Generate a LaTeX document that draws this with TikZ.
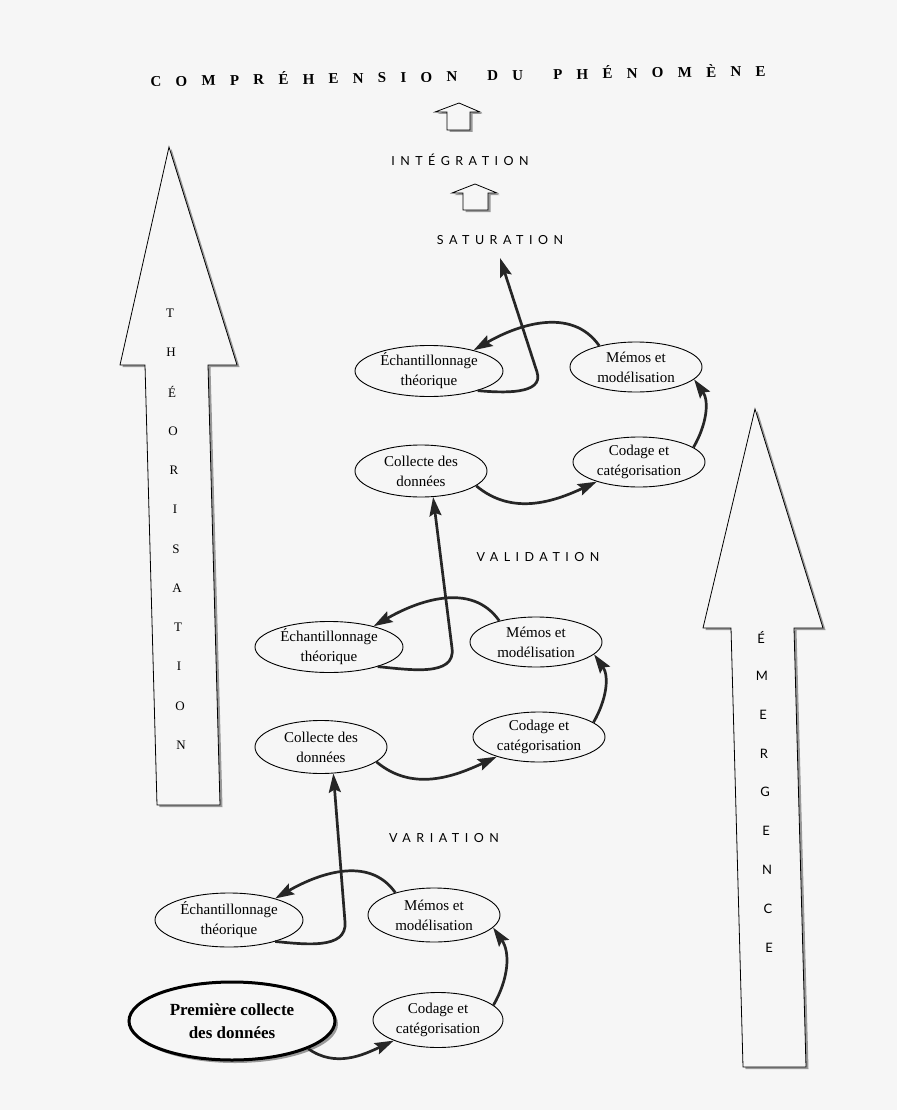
\documentclass[tikz,border=0pt]{standalone}
\usepackage{fontspec}
\setmainfont{Liberation Serif}
\newfontfamily\titlefont[LetterSpace=95]{Liberation Serif}
\newfontfamily\stagefont[LetterSpace=44]{Lato}
\newfontfamily\letterfont{Lato}
\usepackage{tikz}
\usetikzlibrary{shapes.geometric, arrows.meta, shadows}
\definecolor{paper}{gray}{0.965}

\tikzset{
  bubble/.style={ellipse, draw, line width=0.9pt, inner sep=0pt, align=center,
    minimum width=132pt, minimum height=50pt, font=\fontsize{15}{20}\selectfont},
  widebubble/.style={bubble, minimum width=148pt},
  firstbubble/.style={bubble, minimum width=206pt, minimum height=78pt, line width=3pt,
    fill=paper, font=\bfseries\fontsize{17}{23}\selectfont,
    drop shadow={shadow xshift=3pt, shadow yshift=-3pt, fill=black!40, opacity=1}},
  stage/.style={font=\stagefont\fontsize{12.5}{14}\selectfont},
  letter/.style={font=\letterfont\fontsize{13}{13}\selectfont},
  serifletter/.style={font=\fontsize{13}{13}\selectfont},
  link/.style={->, line width=2.7pt, black!85},
  hollow/.style={draw, line width=0.8pt, fill=paper,
    drop shadow={shadow xshift=2.5pt, shadow yshift=-2pt, fill=black!40, opacity=1}},
}

\begin{document}
\begin{tikzpicture}[x=1pt, y=-1pt, >={Stealth[length=19pt, width=12pt, inset=3pt]}]

  \fill[paper] (0,0) rectangle (897,1110);
  \useasboundingbox (0,0) rectangle (897,1110);

  % titles
  \node[font=\titlefont\bfseries\fontsize{15}{18}\selectfont, rotate=1] (title) at (458,75)
    {COMPRÉHENSION\hspace{12pt} DU\hspace{12pt} PHÉNOMÈNE};
  \node[stage] (integ) at (460,160) {INTÉGRATION};
  \node[stage] (satur) at (500,240) {SATURATION};
  \node[stage] (valid) at (538,557) {VALIDATION};
  \node[stage] (varia) at (444,838) {VARIATION};

  % small hollow arrows
  \draw[hollow] (435,112) -- (459,103) -- (480,112) -- (470,112) -- (470,130) -- (447,130) -- (447,112) -- cycle;
  \draw[hollow] (452,193) -- (475,184) -- (497,193) -- (488,193) -- (488,210) -- (463,210) -- (463,193) -- cycle;

  % big arrows
  \draw[hollow] (169,147) -- (237,365) -- (208,365) -- (220,805) -- (157,805) -- (145,365) -- (120,365) -- cycle;
  \draw[hollow] (755,409) -- (823,628) -- (794,628) -- (806,1067) -- (743,1067) -- (731,628) -- (703,628) -- cycle;
  \foreach \l [count=\i] in {T,H,É,O,R,I,S,A,T,I,O,N}
    \node[serifletter] (th\i) at ({169+\i},{313+(\i-1)*39.3}) {\l};
  \foreach \l [count=\i] in {É,M,E,R,G,E,N,C,E}
    \node[letter] (em\i) at ({760+\i},{637+(\i-1)*38.8}) {\l};

  % top cycle
  \node[widebubble] (tEch) at (429,371) {Échantillonnage\\théorique};
  \node[bubble] (tMem) at (636,367) {Mémos et\\modélisation};
  \node[bubble, minimum height=52pt] (tCol) at (421,471) {Collecte des\\données};
  \node[bubble] (tCod) at (639,462) {Codage et\\catégorisation};

  % middle cycle
  \node[widebubble] (mEch) at (329,647) {Échantillonnage\\théorique};
  \node[bubble] (mMem) at (536,642) {Mémos et\\modélisation};
  \node[bubble, minimum height=53pt] (mCol) at (321,747) {Collecte des\\données};
  \node[bubble] (mCod) at (539,737) {Codage et\\catégorisation};

  % bottom cycle
  \node[widebubble, minimum height=54pt] (bEch) at (229,920) {Échantillonnage\\théorique};
  \node[bubble, minimum height=54pt] (bMem) at (434,915) {Mémos et\\modélisation};
  \node[firstbubble] (first) at (232,1021) {Première collecte\\des données};
  \node[bubble, minimum width=130pt, minimum height=55pt] (bCod) at (438,1020) {Codage et\\catégorisation};

  \coordinate (tBend) at (537,372);
  \coordinate (tTop) at (500,258);
  \coordinate (mBend) at (452,648);
  \coordinate (bBend) at (345,922);

  \draw[link] (tCol.-15) to[out=-40, in=205] (tCod.205);
  \draw[link] (tCod.15) to[out=60, in=-55] (tMem.-12);
  \draw[link] (tMem.150) to[out=125, in=30] (tEch.25);
  \draw[link] (tEch.-22) to[out=-5, in=-72] (tBend) -- (tTop);

  \draw[link] (mCol.-15) to[out=-40, in=205] (mCod.205);
  \draw[link] (mCod.15) to[out=60, in=-55] (mMem.-12);
  \draw[link] (mMem.150) to[out=125, in=30] (mEch.25);
  \draw[link] (mEch.-22) to[out=-5, in=-82] (mBend) -- (tCol.-65);

  \draw[link] (first.-20) to[out=-35, in=205] (bCod.205);
  \draw[link] (bCod.15) to[out=60, in=-55] (bMem.-12);
  \draw[link] (bMem.150) to[out=125, in=30] (bEch.25);
  \draw[link] (bEch.-25) to[out=-5, in=-85] (bBend) -- (mCol.-65);

\end{tikzpicture}
\end{document}
